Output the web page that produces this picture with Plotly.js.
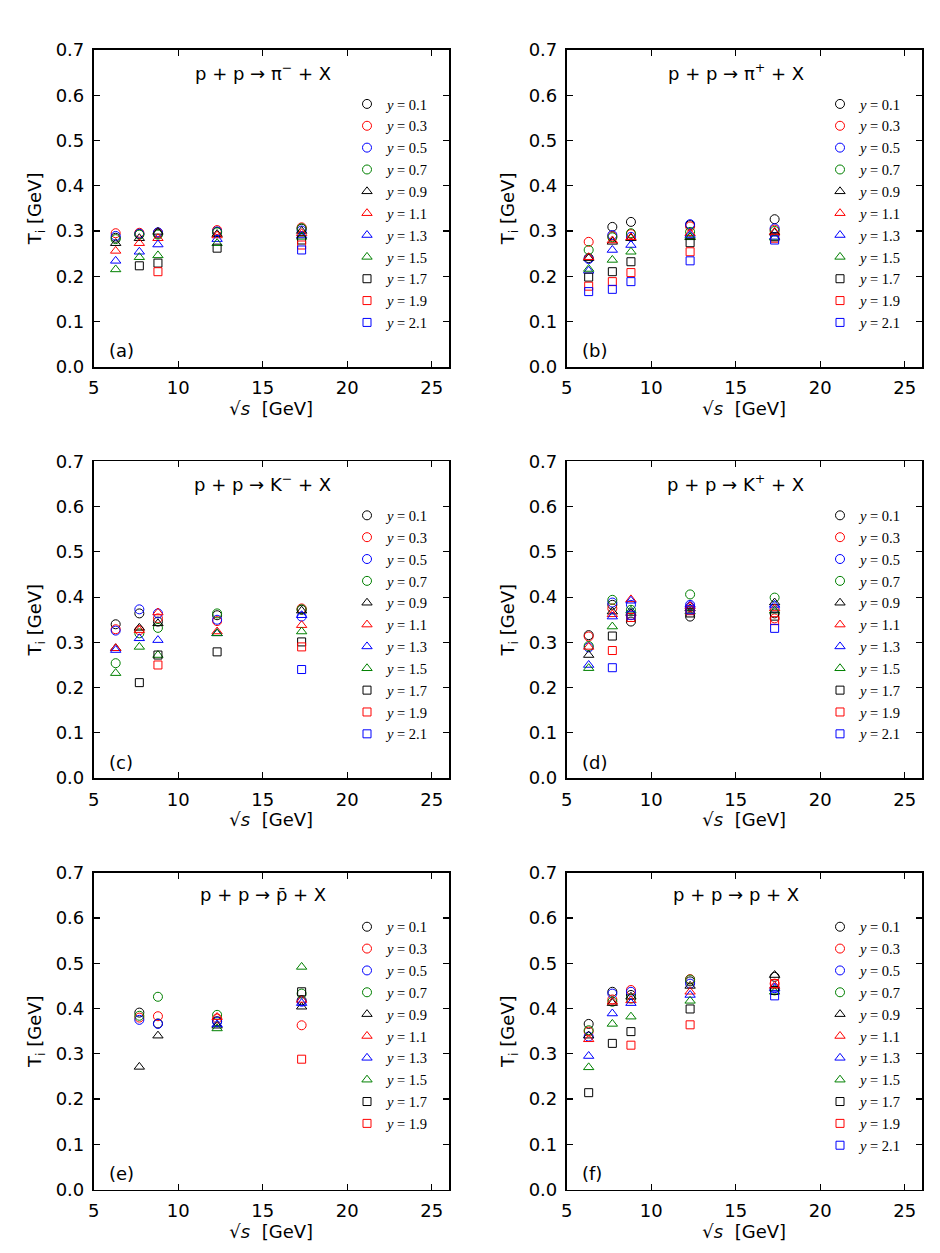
<!DOCTYPE html>
<html>
<head>
<meta charset="utf-8">
<script src="https://cdn.plot.ly/plotly-3.0.1.min.js"></script>
<style>
  body { margin: 0; background: #fff; }
  #plotDiv { width: 940px; height: 1253px; }
</style>
</head>
<body>
<div id="plotDiv"></div>
<script>
// Collision energies (GeV) and rapidity bins
const energies = [6.3, 7.7, 8.8, 12.3, 17.3];
const rapidities = ["0.1", "0.3", "0.5", "0.7", "0.9", "1.1", "1.3", "1.5", "1.7", "1.9", "2.1"];

// T_i [GeV], one row per rapidity, one column per energy
const tPiMinus = [
  [0.285, 0.293, 0.294, 0.298, 0.305],
  [0.295, 0.296, 0.296, 0.302, 0.308],
  [0.289, 0.294, 0.297, 0.299, 0.301],
  [0.282, 0.292, 0.292, 0.297, 0.306],
  [0.273, 0.284, 0.298, 0.293, 0.300],
  [0.256, 0.273, 0.284, 0.290, 0.295],
  [0.234, 0.254, 0.270, 0.282, 0.290],
  [0.215, 0.242, 0.246, 0.273, 0.287],
  [null, 0.223, 0.229, 0.262, 0.280],
  [null, null, 0.210, null, 0.269],
  [null, null, null, null, 0.258],
];
const tPiPlus = [
  [0.240, 0.309, 0.320, 0.313, 0.326],
  [0.276, 0.288, 0.293, 0.310, 0.303],
  [0.238, 0.291, 0.287, 0.315, 0.306],
  [0.258, 0.286, 0.295, 0.298, 0.300],
  [0.240, 0.276, 0.284, 0.286, 0.296],
  [0.242, 0.279, 0.286, 0.295, 0.298],
  [0.212, 0.258, 0.269, 0.291, 0.287],
  [0.216, 0.236, 0.254, 0.287, 0.285],
  [0.198, 0.210, 0.232, 0.274, 0.287],
  [0.178, 0.188, 0.208, 0.254, 0.284],
  [0.166, 0.171, 0.188, 0.234, 0.280],
];
const tKMinus = [
  [0.340, 0.364, 0.346, 0.360, 0.372],
  [0.329, 0.327, 0.353, 0.347, 0.375],
  [0.326, 0.373, 0.364, 0.350, 0.357],
  [0.254, 0.320, 0.332, 0.364, 0.373],
  [0.287, 0.332, 0.342, 0.320, 0.370],
  [0.287, 0.327, 0.366, 0.324, 0.338],
  [0.283, 0.309, 0.305, 0.320, 0.360],
  [0.232, 0.290, 0.272, 0.320, 0.324],
  [null, 0.211, 0.272, 0.279, 0.301],
  [null, null, 0.250, null, 0.290],
  [null, null, null, null, 0.240],
];
const tKPlus = [
  [0.316, 0.383, 0.346, 0.357, 0.364],
  [0.313, 0.375, 0.360, 0.378, 0.353],
  [0.289, 0.388, 0.383, 0.383, 0.375],
  [0.292, 0.394, 0.372, 0.406, 0.399],
  [0.272, 0.368, 0.365, 0.375, 0.388],
  [0.290, 0.362, 0.395, 0.380, 0.375],
  [0.250, 0.357, 0.392, 0.383, 0.383],
  [0.243, 0.335, 0.370, 0.368, 0.370],
  [null, 0.314, 0.355, 0.365, 0.358],
  [null, 0.282, 0.355, 0.370, 0.348],
  [null, 0.244, 0.360, 0.372, 0.331],
];
const tPBar = [
  [null, 0.391, 0.367, 0.372, 0.418],
  [null, 0.380, 0.383, 0.378, 0.363],
  [null, 0.375, 0.366, 0.371, 0.415],
  [null, 0.384, 0.426, 0.386, 0.433],
  [null, 0.271, 0.340, 0.362, 0.404],
  [null, null, null, 0.381, 0.419],
  [null, null, null, 0.365, 0.412],
  [null, null, null, 0.356, 0.492],
  [null, null, null, null, 0.437],
  [null, null, null, null, 0.288],
];
const tProton = [
  [0.366, 0.437, 0.430, 0.460, 0.470],
  [0.349, 0.420, 0.441, 0.465, 0.455],
  [0.338, 0.433, 0.437, 0.455, 0.445],
  [0.352, 0.415, 0.422, 0.464, 0.440],
  [0.340, 0.412, 0.426, 0.450, 0.474],
  [0.332, 0.415, 0.418, 0.437, 0.450],
  [0.295, 0.389, 0.412, 0.430, 0.445],
  [0.270, 0.366, 0.382, 0.417, 0.437],
  [0.214, 0.323, 0.349, 0.399, 0.440],
  [null, null, 0.319, 0.364, 0.455],
  [null, null, null, null, 0.428],
];

const panelTitles = [
  "p + p → π<sup>−</sup> + X",
  "p + p → π<sup>+</sup> + X",
  "p + p → K<sup>−</sup> + X",
  "p + p → K<sup>+</sup> + X",
  "p + p → p\u0304 + X",
  "p + p → p + X",
];
const panelLabels = ["(a)", "(b)", "(c)", "(d)", "(e)", "(f)"];
const panelData = [tPiMinus, tPiPlus, tKMinus, tKPlus, tPBar, tProton];

// marker style per rapidity bin
const colors = ["black", "red", "blue", "green"];
const symbols = ["circle-open", "triangle-up-open", "square-open"];

// panel geometry in pixels
const W = 940, H = 1253;
const colX = [[93.7, 448.7], [566.7, 921.7]];
const rowY = [[50, 366.7], [461.4, 778.1], [872.8, 1189.5]];

let traces = [];
let layout = {
  width: W,
  height: H,
  margin: { l: 0, r: 0, t: 0, b: 0 },
  paper_bgcolor: "white",
  plot_bgcolor: "white",
  font: { family: "DejaVu Sans", size: 18, color: "black" },
  annotations: [],
};

for (let p = 0; p < 6; p++) {
  let col = p % 2;
  let row = Math.floor(p / 2);
  let n = p === 0 ? "" : String(p + 1);
  let xa = "x" + n, ya = "y" + n;
  let legName = "legend" + n;

  let rows = panelData[p];
  for (let i = 0; i < rows.length; i++) {
    traces.push({
      type: "scatter",
      mode: "markers",
      x: energies,
      y: rows[i],
      xaxis: xa,
      yaxis: ya,
      legend: legName,
      name: "<i>y</i> = " + rapidities[i],
      marker: {
        symbol: symbols[Math.floor(i / 4)],
        color: colors[i % 4],
        size: i < 8 ? 9 : 8,
        line: { width: 1, color: colors[i % 4] },
      },
      hoverinfo: "x+y+name",
    });
  }

  let [x0, x1] = colX[col];
  let [yt, yb] = rowY[row];

  layout["xaxis" + n] = {
    domain: [x0 / W, x1 / W],
    anchor: ya,
    range: [5, 26],
    dtick: 5,
    tick0: 5,
    ticks: "inside",
    ticklen: 6,
    tickwidth: 1.2,
    tickcolor: "black",
    showline: true,
    linecolor: "black",
    linewidth: 1.8,
    mirror: "ticks",
    showgrid: false,
    zeroline: false,
    ticklabelstandoff: 4,
    tickfont: { size: 18 },
    title: { text: "√<i>s</i>  [GeV]", font: { size: 18 }, standoff: 4 },
  };
  layout["yaxis" + n] = {
    domain: [1 - yb / H, 1 - yt / H],
    anchor: xa,
    range: [0, 0.7],
    dtick: 0.1,
    tick0: 0,
    tickformat: ".1f",
    ticks: "inside",
    ticklen: 6,
    tickwidth: 1.2,
    tickcolor: "black",
    showline: true,
    linecolor: "black",
    linewidth: 1.8,
    mirror: "ticks",
    showgrid: false,
    zeroline: false,
    ticklabelstandoff: 4,
    tickfont: { size: 18 },
    title: { text: "T<sub>i</sub> [GeV]", font: { size: 18 }, standoff: 9 },
  };

  layout[legName] = {
    x: (x0 + 273.3 - 20) / W,
    y: 1 - (yt + 38) / H,
    xanchor: "left",
    yanchor: "top",
    bgcolor: "rgba(0,0,0,0)",
    borderwidth: 0,
    font: { family: "Liberation Serif", size: 14.5, color: "black" },
    itemclick: false,
  };

  // reaction title
  layout.annotations.push({
    xref: xa + " domain",
    yref: ya + " domain",
    x: 0.476,
    y: 0.9315,
    xanchor: "center",
    yanchor: "middle",
    showarrow: false,
    text: panelTitles[p],
    font: { size: 18 },
  });
  // panel label
  layout.annotations.push({
    xref: xa + " domain",
    yref: ya + " domain",
    x: 0.038,
    y: 0.05,
    xanchor: "left",
    yanchor: "middle",
    showarrow: false,
    text: panelLabels[p],
    font: { size: 18 },
  });
}

Plotly.newPlot("plotDiv", traces, layout, { staticPlot: true });
</script>
</body>
</html>
